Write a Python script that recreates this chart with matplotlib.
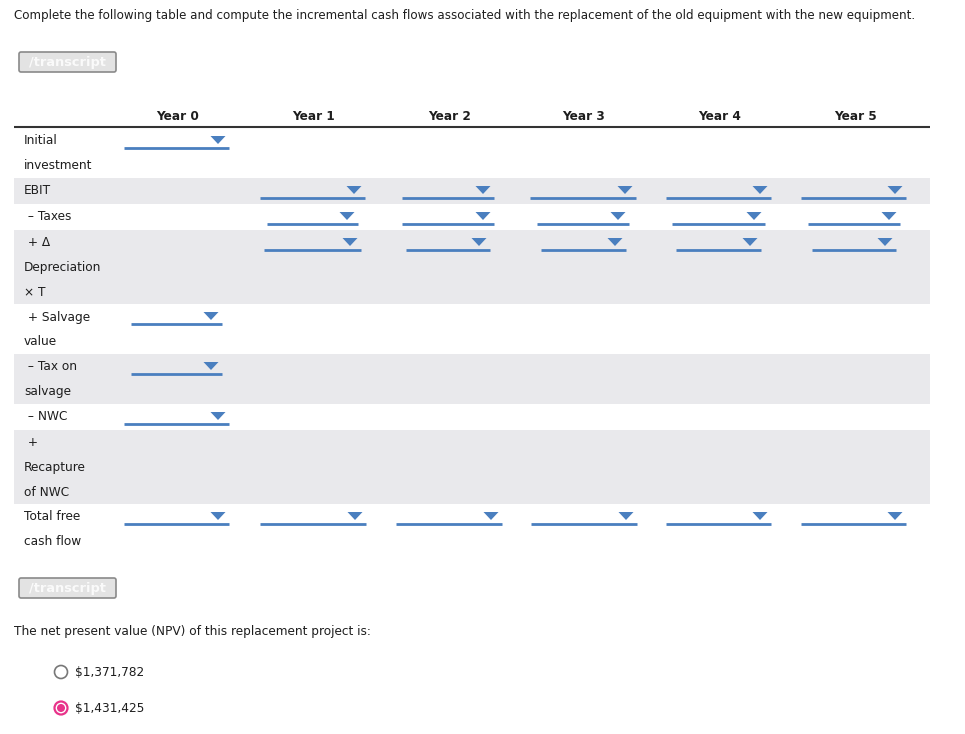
import matplotlib
matplotlib.use('Agg')
import matplotlib.pyplot as plt
from matplotlib.patches import Rectangle, Polygon, Circle, FancyBboxPatch

# Texts of the form
title = 'Complete the following table and compute the incremental cash flows associated with the replacement of the old equipment with the new equipment.'
years = ['Year 0', 'Year 1', 'Year 2', 'Year 3', 'Year 4', 'Year 5']
row_labels = [
    ['Initial', 'investment'],
    ['EBIT'],
    [' \u2013 Taxes'],
    [' + \u0394', 'Depreciation', '\u00d7 T'],
    [' + Salvage', 'value'],
    [' \u2013 Tax on', 'salvage'],
    [' \u2013 NWC'],
    [' +', 'Recapture', 'of NWC'],
    ['Total free', 'cash flow'],
]
npv_question = 'The net present value (NPV) of this replacement project is:'
npv_options = ['$1,371,782', '$1,431,425']
npv_selected = 1

# Layout (pixels)
row_tops = [128, 178, 204, 230, 304, 354, 404, 430, 504, 554]
shaded_rows = [1, 3, 5, 7]
year_x = [178, 313, 449, 584, 720, 855]
# dropdown underline extents per row: (left, right)
dropdowns = {
    0: [(124, 229)],
    1: [(260, 365), (402, 494), (530, 636), (666, 771), (801, 906)],
    2: [(267, 358), (402, 494), (537, 629), (672, 765), (808, 900)],
    3: [(264, 361), (406, 490), (541, 626), (676, 761), (812, 896)],
    4: [(131, 222)],
    5: [(131, 222)],
    6: [(124, 229)],
    8: [(124, 229), (260, 366), (396, 502), (531, 637), (666, 771), (801, 906)],
}

txt_col = '#1e1e1e'
blue = '#4a7fbf'
fs = 8.75

fig = plt.figure(figsize=(9.65, 7.34), dpi=100)
ax = fig.add_axes([0, 0, 1, 1])
ax.set_xlim(0, 965)
ax.set_ylim(734, 0)
ax.axis('off')

ax.text(14, 16, title, fontsize=8.6, color=txt_col, va='center', ha='left')


def transcript_button(y):
    btn = FancyBboxPatch((19, y), 97, 20, boxstyle='round,pad=0,rounding_size=2',
                         facecolor='#e3e3e3', edgecolor='#8a8a8a', linewidth=1.2)
    ax.add_patch(btn)
    ax.text(67, y + 10.5, '/transcript', fontsize=9.3, color='#fafafa', fontweight='bold',
            ha='center', va='center')


transcript_button(52)
transcript_button(578)

# header
for x, yr in zip(year_x, years):
    ax.text(x, 116, yr, fontsize=fs, fontweight='bold', color=txt_col, ha='center', va='center')
ax.plot([14, 930], [127, 127], color='#333333', lw=1.5, solid_capstyle='butt')

# rows
for i, lines in enumerate(row_labels):
    top, bot = row_tops[i], row_tops[i + 1]
    if i in shaded_rows:
        ax.add_patch(Rectangle((14, top), 916, bot - top, facecolor='#e9e9ec', edgecolor='none'))
    for k, line in enumerate(lines):
        ax.text(24, top + 13 + 24.5 * k, line, fontsize=fs, color=txt_col, ha='left', va='center')
    for left, right in dropdowns.get(i, []):
        uy = top + 20
        ax.plot([left, right], [uy, uy], color=blue, lw=2, solid_capstyle='butt')
        ax_c = right - 11
        ay = uy - 8
        ax.add_patch(Polygon([[ax_c - 7.5, ay - 4], [ax_c + 7.5, ay - 4], [ax_c, ay + 4]],
                             closed=True, facecolor=blue, edgecolor='none'))

# NPV question
ax.text(14, 631, npv_question, fontsize=fs, color=txt_col, ha='left', va='center')
for j, opt in enumerate(npv_options):
    y = 672 + 36 * j
    if j == npv_selected:
        ax.add_patch(Circle((61, y), 6.5, facecolor='white', edgecolor='#e8338a', linewidth=1.6))
        ax.add_patch(Circle((61, y), 4, facecolor='#e8338a', edgecolor='none'))
    else:
        ax.add_patch(Circle((61, y), 6.5, facecolor='white', edgecolor='#777777', linewidth=1.2))
    ax.text(75, y, opt, fontsize=fs, color=txt_col, ha='left', va='center')

fig.savefig('out.png', dpi=100, facecolor='white')
